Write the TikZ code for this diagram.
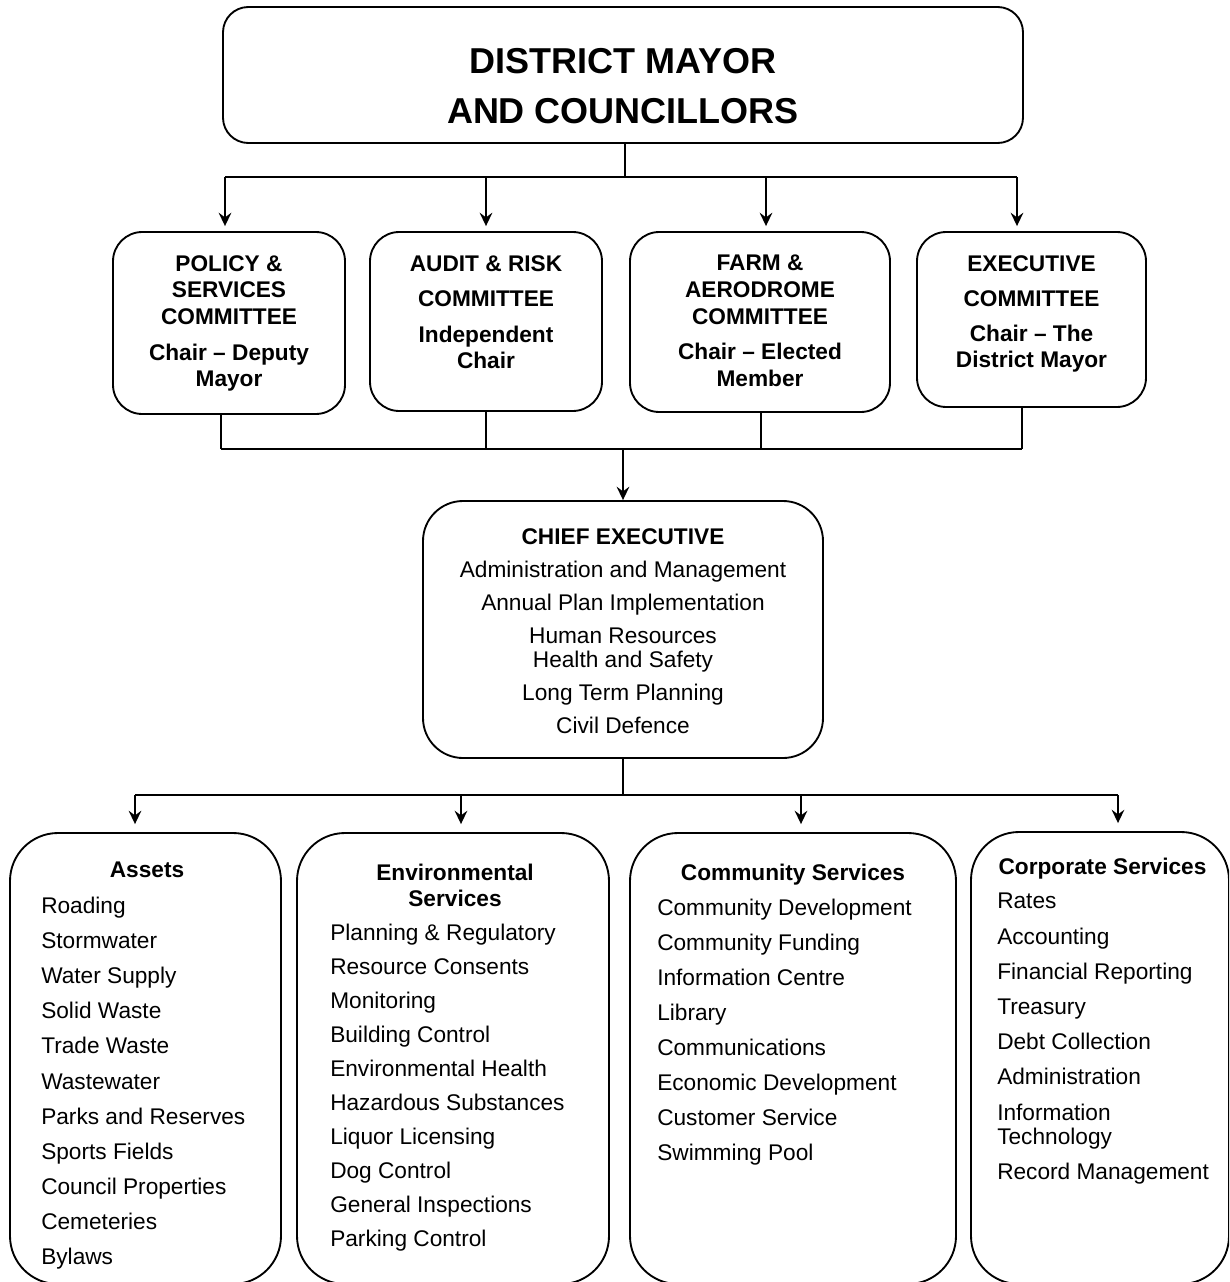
\documentclass[tikz,border=0pt]{standalone}
\usepackage{fontspec}
\setmainfont{Liberation Sans}
\usetikzlibrary{arrows.meta, positioning}

\begin{document}
\begin{tikzpicture}[x=0.75pt, y=-0.75pt,
    conn/.style={line width=1.3pt},
    arr/.style={conn, -{Stealth[length=10pt, width=9.5pt, inset=3.5pt]}},
    box/.style={draw, line width=1.4pt, inner sep=0pt},
    headtxt/.style={inner sep=0pt, align=center, font=\bfseries\fontsize{17}{19.9}\selectfont},
    itemtxt/.style={inner sep=0pt, align=left, anchor=north west}]
        \useasboundingbox (0,0) rectangle (1229,1282);
        \clip (0,0) rectangle (1229,1282);

        % council
        \node[box, rounded corners=19pt, minimum width=600pt, minimum height=102pt] (mayor) at (623,75) {};
        \node[inner sep=0pt, align=center, anchor=north, font=\bfseries\fontsize{27}{37.5}\selectfont] (mayortxt) at (623,48) {DISTRICT MAYOR\\AND COUNCILLORS};

        % committees
        \node[box, rounded corners=22pt, minimum width=174pt, minimum height=136.5pt] (pol) at (229,323) {};
        \node[box, rounded corners=22pt, minimum width=174pt, minimum height=134.25pt] (aud) at (486,321.5) {};
        \node[box, rounded corners=22pt, minimum width=195pt, minimum height=135pt] (farm) at (760,322) {};
        \node[box, rounded corners=22pt, minimum width=171.75pt, minimum height=131.25pt] (exe) at (1031.5,319.5) {};

        \node[headtxt, anchor=north] (poltxt) at (229,255) {POLICY \&\\SERVICES\\COMMITTEE\\[7pt]Chair -- Deputy\\Mayor};
        \node[headtxt, anchor=north] (audtxt) at (486,255) {AUDIT \& RISK\\[6.4pt]COMMITTEE\\[7pt]Independent\\Chair};
        \node[headtxt, anchor=north] (farmtxt) at (760,255) {FARM \&\\AERODROME\\COMMITTEE\\[7pt]Chair -- Elected\\Member};
        \node[headtxt, anchor=north] (exetxt) at (1031.5,255) {EXECUTIVE\\[6.4pt]COMMITTEE\\[6.4pt]Chair -- The\\District Mayor};

        % chief executive
        \node[box, rounded corners=30pt, minimum width=300pt, minimum height=192.75pt] (ce) at (623,629.5) {};
        \node[inner sep=0pt, align=center, anchor=north, font=\fontsize{17}{18}\selectfont] (cetxt) at (623,528)
            {{\bfseries CHIEF EXECUTIVE}\\[6.75pt]Administration and Management\\[6.75pt]Annual Plan Implementation\\[6.75pt]Human Resources\\Health and Safety\\[6.75pt]Long Term Planning\\[6.75pt]Civil Defence};

        % departments
        \node[box, rounded corners=36pt, minimum width=203.25pt, minimum height=338.25pt] (assets) at (145.5,1058.5) {};
        \node[box, rounded corners=36pt, minimum width=234pt, minimum height=338.25pt] (env) at (453,1058.5) {};
        \node[box, rounded corners=36pt, minimum width=244.5pt, minimum height=338.25pt] (comm) at (793,1058.5) {};
        \node[box, rounded corners=36pt, minimum width=193.5pt, minimum height=339pt] (corp) at (1100,1058) {};

        \node[headtxt, anchor=base] (assetshd) at (147,877) {Assets};
        \node[headtxt, anchor=north, font=\bfseries\fontsize{17}{19.5}\selectfont] (envhd) at (455,864) {Environmental\\Services};
        \node[headtxt, anchor=base] (commhd) at (793,880) {Community Services};
        \node[headtxt, anchor=base] (corphd) at (1102.5,874) {Corporate Services};

        \node[itemtxt, font=\fontsize{17}{26.3}\selectfont] (assetsl) at (41,897)
            {Roading\\Stormwater\\Water Supply\\Solid Waste\\Trade Waste\\Wastewater\\Parks and Reserves\\Sports Fields\\Council Properties\\Cemeteries\\Bylaws};
        \node[itemtxt, font=\fontsize{17}{25.5}\selectfont] (envl) at (330,924)
            {Planning \& Regulatory\\Resource Consents\\Monitoring\\Building Control\\Environmental Health\\Hazardous Substances\\Liquor Licensing\\Dog Control\\General Inspections\\Parking Control};
        \node[itemtxt, font=\fontsize{17}{26.25}\selectfont] (comml) at (657,899)
            {Community Development\\Community Funding\\Information Centre\\Library\\Communications\\Economic Development\\Customer Service\\Swimming Pool};
        \node[itemtxt, font=\fontsize{17}{18}\selectfont] (corpl) at (997,893)
            {Rates\\[8.4pt]Accounting\\[8.4pt]Financial Reporting\\[8.4pt]Treasury\\[8.4pt]Debt Collection\\[8.4pt]Administration\\[8.4pt]Information\\Technology\\[8.4pt]Record Management};

        % connectors
        \coordinate (t1) at (225,177);
        \coordinate (t2) at (486,177);
        \coordinate (t3) at (766,177);
        \coordinate (t4) at (1017,177);
        \draw[conn] (mayor.south -| 625,0) -- (625,177)
            (t1) -- (t4);
        \draw[arr, shorten >=3.75pt] (t1) -- (t1 |- pol.north);
        \draw[arr, shorten >=3.75pt] (t2) -- (t2 |- aud.north);
        \draw[arr, shorten >=3.75pt] (t3) -- (t3 |- farm.north);
        \draw[arr, shorten >=3.75pt] (t4) -- (t4 |- exe.north);

        \coordinate (m1) at (221,449);
        \coordinate (m2) at (486,449);
        \coordinate (m3) at (761,449);
        \coordinate (m4) at (1022,449);
        \draw[conn] (pol.south -| m1) -- (m1)
            (aud.south -| m2) -- (m2)
            (farm.south -| m3) -- (m3)
            (exe.south -| m4) -- (m4)
            (m1) -- (m4);
        \draw[arr] (ce.north |- m1) -- (ce.north);

        \coordinate (d1) at (135,795);
        \coordinate (d2) at (461,795);
        \coordinate (d3) at (801,795);
        \coordinate (d4) at (1118,795);
        \draw[conn] (ce.south) -- (ce.south |- d1)
            (d1) -- (d4);
        \draw[arr, shorten >=6pt] (d1) -- (d1 |- assets.north);
        \draw[arr, shorten >=6pt] (d2) -- (d2 |- env.north);
        \draw[arr, shorten >=6pt] (d3) -- (d3 |- comm.north);
        \draw[arr, shorten >=6pt] (d4) -- (d4 |- corp.north);
\end{tikzpicture}
\end{document}
